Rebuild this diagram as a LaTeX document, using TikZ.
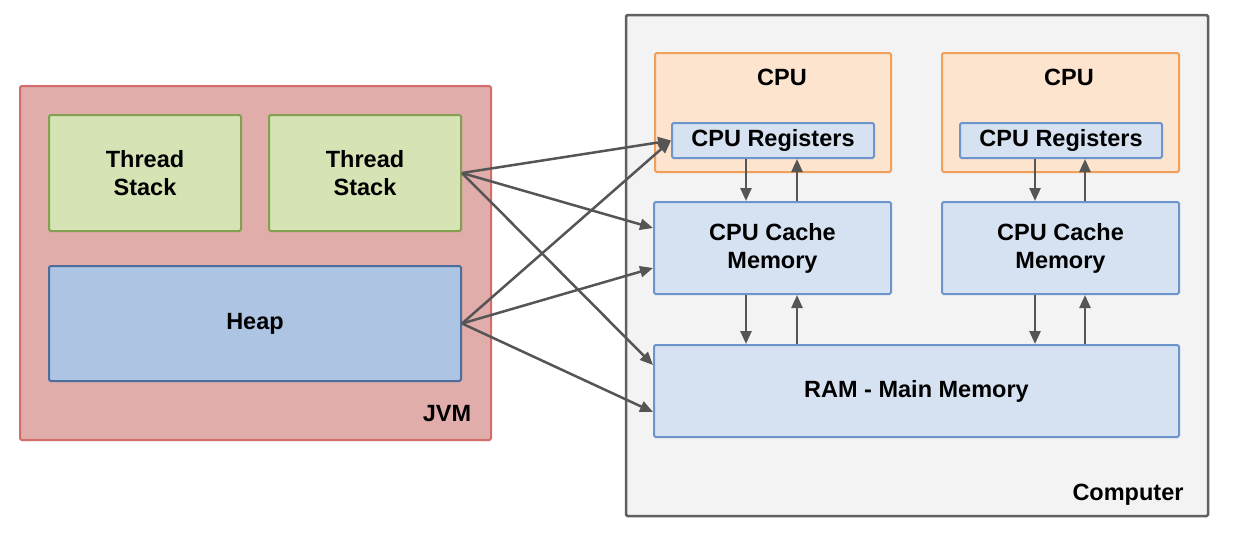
\documentclass[tikz,border=0pt]{standalone}
\usepackage{fontspec}
\setmainfont{Liberation Sans}
\usetikzlibrary{arrows.meta,calc}
\definecolor{jvmfill}{HTML}{E1ADAB}
\definecolor{jvmline}{HTML}{D46C6A}
\definecolor{tsfill}{HTML}{D5E3B5}
\definecolor{tsline}{HTML}{82A050}
\definecolor{heapfill}{HTML}{ADC4E2}
\definecolor{heapline}{HTML}{4D6E9C}
\definecolor{compfill}{HTML}{F3F3F3}
\definecolor{compline}{HTML}{606060}
\definecolor{cpufill}{HTML}{FDE4CE}
\definecolor{cpuline}{HTML}{F0A05A}
\definecolor{memfill}{HTML}{D6E2F2}
\definecolor{memline}{HTML}{6E94CC}
\definecolor{arrcol}{HTML}{555555}
\tikzset{
  box/.style={draw, line width=2pt, rounded corners=1.5pt, inner sep=0pt, align=center,
    font=\fontsize{23.5}{28}\selectfont\bfseries},
  lbl/.style={font=\fontsize{23.5}{28}\selectfont\bfseries, inner sep=0pt},
  arr/.style={draw=arrcol, line width=2.5pt, -{Triangle[length=13pt,width=11pt]}},
}
\begin{document}
\begin{tikzpicture}[x=1pt,y=-1pt]
\useasboundingbox[fill=white] (0,0) rectangle (1252,536);
% JVM
\node[box, fill=jvmfill, draw=jvmline, minimum width=471pt, minimum height=354pt] (jvm) at (255.5,263) {};
\node[box, fill=tsfill, draw=tsline, minimum width=192pt, minimum height=116pt] (ts1) at (145,173) {Thread\\Stack};
\node[box, fill=tsfill, draw=tsline, minimum width=192pt, minimum height=116pt] (ts2) at (365,173) {Thread\\Stack};
\node[box, fill=heapfill, draw=heapline, minimum width=412pt, minimum height=115pt] (heap) at (255,323.5) {\raisebox{-2pt}{Heap}};
\node[lbl] (jvmlbl) at (447,414) {JVM};
% Computer
\node[box, fill=compfill, draw=compline, line width=2.5pt, minimum width=582pt, minimum height=501pt] (comp) at (917,265.5) {};
\node[lbl] (complbl) at (1128,495) {Computer};
\node[box, fill=cpufill, draw=cpuline, minimum width=236pt, minimum height=119pt] (cpu1) at (773,112.5) {};
\node[lbl] (cpu1lbl) at (782,77) {CPU};
\node[box, fill=memfill, draw=memline, minimum width=202pt, minimum height=35pt] (reg1) at (773,140.5) {CPU Registers};
\node[box, fill=cpufill, draw=cpuline, minimum width=237pt, minimum height=119pt] (cpu2) at (1060.5,112.5) {};
\node[lbl] (cpu2lbl) at (1069,77) {CPU};
\node[box, fill=memfill, draw=memline, minimum width=202pt, minimum height=35pt] (reg2) at (1061,140.5) {CPU Registers};
\node[box, fill=memfill, draw=memline, minimum width=237pt, minimum height=92pt] (cache1) at (772.5,248) {CPU Cache\\Memory};
\node[box, fill=memfill, draw=memline, minimum width=237pt, minimum height=92pt] (cache2) at (1060.5,248) {CPU Cache\\Memory};
\node[box, fill=memfill, draw=memline, minimum width=525pt, minimum height=92pt] (ram) at (916.5,391) {RAM - Main Memory};
% vertical arrow columns
\coordinate (xa) at (746,0);
\coordinate (xb) at (797,0);
\coordinate (xc) at (1035,0);
\coordinate (xd) at (1085,0);
\draw[arr] (reg1.south -| xa) -- (cache1.north -| xa);
\draw[arr] (cache1.north -| xb) -- (reg1.south -| xb);
\draw[arr] (reg2.south -| xc) -- (cache2.north -| xc);
\draw[arr] (cache2.north -| xd) -- (reg2.south -| xd);
\draw[arr] (cache1.south -| xa) -- (ram.north -| xa);
\draw[arr] (ram.north -| xb) -- (cache1.south -| xb);
\draw[arr] (cache2.south -| xc) -- (ram.north -| xc);
\draw[arr] (ram.north -| xd) -- (cache2.south -| xd);
% diagonal arrows
\draw[arr] (ts2.east) -- (reg1.west);
\draw[arr] (ts2.east) -- ($(cache1.west)+(0,-20)$);
\draw[arr] (ts2.east) -- ($(ram.west)+(0,-26)$);
\draw[arr] (heap.east) -- (reg1.west);
\draw[arr] (heap.east) -- ($(cache1.west)+(0,20)$);
\draw[arr] (heap.east) -- ($(ram.west)+(0,21)$);
\end{tikzpicture}
\end{document}
